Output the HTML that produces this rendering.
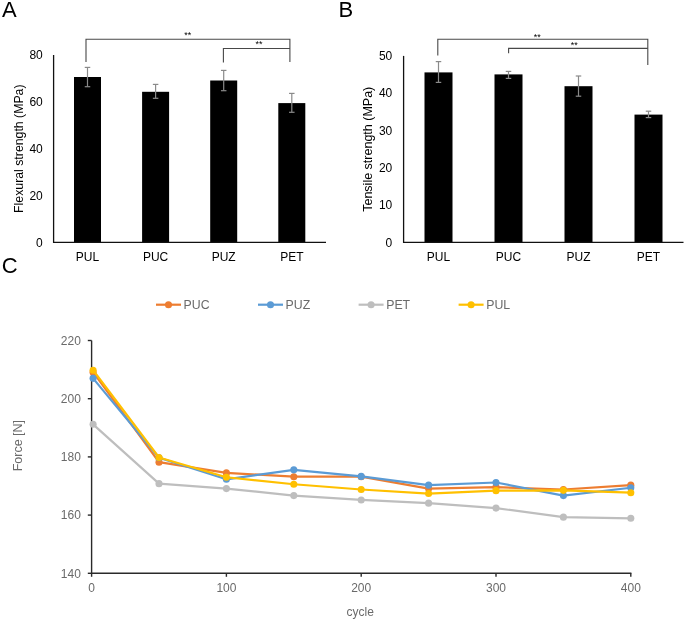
<!DOCTYPE html>
<html><head><meta charset="utf-8"><style>
html,body{margin:0;padding:0;background:#fff;}
svg{display:block;font-family:"Liberation Sans", sans-serif;will-change:transform;filter:blur(0.35px);}
</style></head><body>
<svg width="685" height="621" viewBox="0 0 685 621">
<rect width="685" height="621" fill="#fff"/>
<text transform="translate(2,17.2) scale(1,1.03)" font-size="22" fill="#000">A</text>
<text transform="translate(338.4,17.2) scale(1,1.03)" font-size="22" fill="#000">B</text>
<text transform="translate(1.8,273.2) scale(1,1.03)" font-size="22" fill="#000">C</text>
<rect x="74.0" y="77" width="27" height="165.5" fill="#000"/>
<rect x="142.1" y="91.8" width="27" height="150.7" fill="#000"/>
<rect x="210.2" y="80.5" width="27" height="162.0" fill="#000"/>
<rect x="278.3" y="103.1" width="27" height="139.4" fill="#000"/>
<line x1="87.5" y1="67.4" x2="87.5" y2="86.7" stroke="#8a8a8a" stroke-width="1.2"/>
<line x1="84.75" y1="67.4" x2="90.25" y2="67.4" stroke="#8a8a8a" stroke-width="1.2"/>
<line x1="84.75" y1="86.7" x2="90.25" y2="86.7" stroke="#8a8a8a" stroke-width="1.2"/>
<line x1="155.6" y1="84.4" x2="155.6" y2="98.3" stroke="#8a8a8a" stroke-width="1.2"/>
<line x1="152.85" y1="84.4" x2="158.35" y2="84.4" stroke="#8a8a8a" stroke-width="1.2"/>
<line x1="152.85" y1="98.3" x2="158.35" y2="98.3" stroke="#8a8a8a" stroke-width="1.2"/>
<line x1="223.7" y1="70.4" x2="223.7" y2="90.7" stroke="#8a8a8a" stroke-width="1.2"/>
<line x1="220.95" y1="70.4" x2="226.45" y2="70.4" stroke="#8a8a8a" stroke-width="1.2"/>
<line x1="220.95" y1="90.7" x2="226.45" y2="90.7" stroke="#8a8a8a" stroke-width="1.2"/>
<line x1="291.8" y1="93.4" x2="291.8" y2="112.3" stroke="#8a8a8a" stroke-width="1.2"/>
<line x1="289.05" y1="93.4" x2="294.55" y2="93.4" stroke="#8a8a8a" stroke-width="1.2"/>
<line x1="289.05" y1="112.3" x2="294.55" y2="112.3" stroke="#8a8a8a" stroke-width="1.2"/>
<line x1="53.6" y1="55.0" x2="53.6" y2="242.9" stroke="#111" stroke-width="1.3"/>
<line x1="53.0" y1="242.3" x2="326" y2="242.3" stroke="#111" stroke-width="1.3"/>
<text x="42.8" y="246.55" font-size="12" fill="#000" text-anchor="end" >0</text>
<text x="42.8" y="199.73" font-size="12" fill="#000" text-anchor="end" >20</text>
<text x="42.8" y="152.9" font-size="12" fill="#000" text-anchor="end" >40</text>
<text x="42.8" y="106.08" font-size="12" fill="#000" text-anchor="end" >60</text>
<text x="42.8" y="59.25" font-size="12" fill="#000" text-anchor="end" >80</text>
<text transform="translate(22.6,148.7) rotate(-90)" x="0" y="0" font-size="12.3" fill="#000" text-anchor="middle">Flexural strength (MPa)</text>
<text x="87.5" y="261" font-size="12" fill="#000" text-anchor="middle" >PUL</text>
<text x="155.6" y="261" font-size="12" fill="#000" text-anchor="middle" >PUC</text>
<text x="223.7" y="261" font-size="12" fill="#000" text-anchor="middle" >PUZ</text>
<text x="291.8" y="261" font-size="12" fill="#000" text-anchor="middle" >PET</text>
<path d="M86,62 V39.2 H289.9 V62" fill="none" stroke="#484848" stroke-width="1.1"/>
<path d="M223.4,62.5 V48.5 H289.9" fill="none" stroke="#484848" stroke-width="1.1"/>
<text x="187.8" y="38.2" font-size="9" fill="#000" text-anchor="middle" >**</text>
<text x="259.1" y="47.3" font-size="9" fill="#000" text-anchor="middle" >**</text>
<rect x="424.5" y="72.4" width="28" height="170.1" fill="#000"/>
<rect x="494.5" y="74.4" width="28" height="168.1" fill="#000"/>
<rect x="564.5" y="86.2" width="28" height="156.3" fill="#000"/>
<rect x="634.5" y="114.6" width="28" height="127.9" fill="#000"/>
<line x1="438.5" y1="61.6" x2="438.5" y2="82.4" stroke="#8a8a8a" stroke-width="1.2"/>
<line x1="435.75" y1="61.6" x2="441.25" y2="61.6" stroke="#8a8a8a" stroke-width="1.2"/>
<line x1="435.75" y1="82.4" x2="441.25" y2="82.4" stroke="#8a8a8a" stroke-width="1.2"/>
<line x1="508.5" y1="71.4" x2="508.5" y2="78.4" stroke="#8a8a8a" stroke-width="1.2"/>
<line x1="505.75" y1="71.4" x2="511.25" y2="71.4" stroke="#8a8a8a" stroke-width="1.2"/>
<line x1="505.75" y1="78.4" x2="511.25" y2="78.4" stroke="#8a8a8a" stroke-width="1.2"/>
<line x1="578.5" y1="76" x2="578.5" y2="96.2" stroke="#8a8a8a" stroke-width="1.2"/>
<line x1="575.75" y1="76" x2="581.25" y2="76" stroke="#8a8a8a" stroke-width="1.2"/>
<line x1="575.75" y1="96.2" x2="581.25" y2="96.2" stroke="#8a8a8a" stroke-width="1.2"/>
<line x1="648.5" y1="111.2" x2="648.5" y2="117.6" stroke="#8a8a8a" stroke-width="1.2"/>
<line x1="645.75" y1="111.2" x2="651.25" y2="111.2" stroke="#8a8a8a" stroke-width="1.2"/>
<line x1="645.75" y1="117.6" x2="651.25" y2="117.6" stroke="#8a8a8a" stroke-width="1.2"/>
<line x1="403.6" y1="55.9" x2="403.6" y2="242.9" stroke="#111" stroke-width="1.3"/>
<line x1="403.0" y1="242.3" x2="683.5" y2="242.3" stroke="#111" stroke-width="1.3"/>
<text x="392.3" y="246.55" font-size="12" fill="#000" text-anchor="end" >0</text>
<text x="392.3" y="209.27" font-size="12" fill="#000" text-anchor="end" >10</text>
<text x="392.3" y="171.99" font-size="12" fill="#000" text-anchor="end" >20</text>
<text x="392.3" y="134.71" font-size="12" fill="#000" text-anchor="end" >30</text>
<text x="392.3" y="97.43" font-size="12" fill="#000" text-anchor="end" >40</text>
<text x="392.3" y="60.15" font-size="12" fill="#000" text-anchor="end" >50</text>
<text transform="translate(371.8,149.25) rotate(-90)" x="0" y="0" font-size="12.5" fill="#000" text-anchor="middle">Tensile strength (MPa)</text>
<text x="438.5" y="261" font-size="12" fill="#000" text-anchor="middle" >PUL</text>
<text x="508.5" y="261" font-size="12" fill="#000" text-anchor="middle" >PUC</text>
<text x="578.5" y="261" font-size="12" fill="#000" text-anchor="middle" >PUZ</text>
<text x="648.5" y="261" font-size="12" fill="#000" text-anchor="middle" >PET</text>
<path d="M437.8,55.5 V39.2 H647.8 V65" fill="none" stroke="#484848" stroke-width="1.1"/>
<path d="M508.6,53.2 V48.4 H647.8" fill="none" stroke="#484848" stroke-width="1.1"/>
<text x="537.2" y="39.7" font-size="9" fill="#000" text-anchor="middle" >**</text>
<text x="574.2" y="47.7" font-size="9" fill="#000" text-anchor="middle" >**</text>
<line x1="87.8" y1="573.3" x2="91.6" y2="573.3" stroke="#2a2a2a" stroke-width="1.4"/>
<text x="80.9" y="577.55" font-size="12" fill="#6a6a6a" text-anchor="end" >140</text>
<line x1="87.8" y1="515.1" x2="91.6" y2="515.1" stroke="#2a2a2a" stroke-width="1.4"/>
<text x="80.9" y="519.35" font-size="12" fill="#6a6a6a" text-anchor="end" >160</text>
<line x1="87.8" y1="456.9" x2="91.6" y2="456.9" stroke="#2a2a2a" stroke-width="1.4"/>
<text x="80.9" y="461.15" font-size="12" fill="#6a6a6a" text-anchor="end" >180</text>
<line x1="87.8" y1="398.7" x2="91.6" y2="398.7" stroke="#2a2a2a" stroke-width="1.4"/>
<text x="80.9" y="402.95" font-size="12" fill="#6a6a6a" text-anchor="end" >200</text>
<line x1="87.8" y1="340.5" x2="91.6" y2="340.5" stroke="#2a2a2a" stroke-width="1.4"/>
<text x="80.9" y="344.75" font-size="12" fill="#6a6a6a" text-anchor="end" >220</text>
<line x1="91.6" y1="573.3" x2="91.6" y2="576.8" stroke="#2a2a2a" stroke-width="1.4"/>
<text x="91.6" y="591.6" font-size="12" fill="#6a6a6a" text-anchor="middle" >0</text>
<line x1="226.4" y1="573.3" x2="226.4" y2="576.8" stroke="#2a2a2a" stroke-width="1.4"/>
<text x="226.4" y="591.6" font-size="12" fill="#6a6a6a" text-anchor="middle" >100</text>
<line x1="361.2" y1="573.3" x2="361.2" y2="576.8" stroke="#2a2a2a" stroke-width="1.4"/>
<text x="361.2" y="591.6" font-size="12" fill="#6a6a6a" text-anchor="middle" >200</text>
<line x1="496.0" y1="573.3" x2="496.0" y2="576.8" stroke="#2a2a2a" stroke-width="1.4"/>
<text x="496.0" y="591.6" font-size="12" fill="#6a6a6a" text-anchor="middle" >300</text>
<line x1="630.8" y1="573.3" x2="630.8" y2="576.8" stroke="#2a2a2a" stroke-width="1.4"/>
<text x="630.8" y="591.6" font-size="12" fill="#6a6a6a" text-anchor="middle" >400</text>
<line x1="91.6" y1="340.5" x2="91.6" y2="573.9" stroke="#2a2a2a" stroke-width="1.4"/>
<line x1="91.0" y1="573.3" x2="631.4" y2="573.3" stroke="#2a2a2a" stroke-width="1.4"/>
<text transform="translate(22.3,445.6) rotate(-90)" x="0" y="0" font-size="12.5" fill="#6a6a6a" text-anchor="middle">Force [N]</text>
<text x="360.2" y="616.3" font-size="12" fill="#6a6a6a" text-anchor="middle" >cycle</text>
<polyline points="93.1,372.22 159.0,462.14 226.4,472.9 293.8,476.69 361.2,476.69 428.6,488.62 496.0,487.16 563.4,489.49 630.8,485.13" fill="none" stroke="#ED7D31" stroke-width="2.2" stroke-linejoin="round" stroke-linecap="round"/>
<circle cx="93.1" cy="372.22" r="3.55" fill="#ED7D31"/>
<circle cx="159.0" cy="462.14" r="3.55" fill="#ED7D31"/>
<circle cx="226.4" cy="472.9" r="3.55" fill="#ED7D31"/>
<circle cx="293.8" cy="476.69" r="3.55" fill="#ED7D31"/>
<circle cx="361.2" cy="476.69" r="3.55" fill="#ED7D31"/>
<circle cx="428.6" cy="488.62" r="3.55" fill="#ED7D31"/>
<circle cx="496.0" cy="487.16" r="3.55" fill="#ED7D31"/>
<circle cx="563.4" cy="489.49" r="3.55" fill="#ED7D31"/>
<circle cx="630.8" cy="485.13" r="3.55" fill="#ED7D31"/>
<polyline points="93.1,378.33 159.0,457.77 226.4,479.31 293.8,469.85 361.2,476.4 428.6,485.13 496.0,482.51 563.4,495.6 630.8,487.75" fill="none" stroke="#5B9BD5" stroke-width="2.2" stroke-linejoin="round" stroke-linecap="round"/>
<circle cx="93.1" cy="378.33" r="3.55" fill="#5B9BD5"/>
<circle cx="159.0" cy="457.77" r="3.55" fill="#5B9BD5"/>
<circle cx="226.4" cy="479.31" r="3.55" fill="#5B9BD5"/>
<circle cx="293.8" cy="469.85" r="3.55" fill="#5B9BD5"/>
<circle cx="361.2" cy="476.4" r="3.55" fill="#5B9BD5"/>
<circle cx="428.6" cy="485.13" r="3.55" fill="#5B9BD5"/>
<circle cx="496.0" cy="482.51" r="3.55" fill="#5B9BD5"/>
<circle cx="563.4" cy="495.6" r="3.55" fill="#5B9BD5"/>
<circle cx="630.8" cy="487.75" r="3.55" fill="#5B9BD5"/>
<polyline points="93.1,424.31 159.0,483.67 226.4,488.62 293.8,495.6 361.2,499.97 428.6,503.17 496.0,508.12 563.4,517.14 630.8,518.3" fill="none" stroke="#BEBEBE" stroke-width="2.2" stroke-linejoin="round" stroke-linecap="round"/>
<circle cx="93.1" cy="424.31" r="3.55" fill="#BEBEBE"/>
<circle cx="159.0" cy="483.67" r="3.55" fill="#BEBEBE"/>
<circle cx="226.4" cy="488.62" r="3.55" fill="#BEBEBE"/>
<circle cx="293.8" cy="495.6" r="3.55" fill="#BEBEBE"/>
<circle cx="361.2" cy="499.97" r="3.55" fill="#BEBEBE"/>
<circle cx="428.6" cy="503.17" r="3.55" fill="#BEBEBE"/>
<circle cx="496.0" cy="508.12" r="3.55" fill="#BEBEBE"/>
<circle cx="563.4" cy="517.14" r="3.55" fill="#BEBEBE"/>
<circle cx="630.8" cy="518.3" r="3.55" fill="#BEBEBE"/>
<polyline points="93.1,370.18 159.0,457.48 226.4,477.27 293.8,484.25 361.2,489.49 428.6,493.57 496.0,490.66 563.4,490.36 630.8,492.69" fill="none" stroke="#FFC000" stroke-width="2.2" stroke-linejoin="round" stroke-linecap="round"/>
<circle cx="93.1" cy="370.18" r="3.55" fill="#FFC000"/>
<circle cx="159.0" cy="457.48" r="3.55" fill="#FFC000"/>
<circle cx="226.4" cy="477.27" r="3.55" fill="#FFC000"/>
<circle cx="293.8" cy="484.25" r="3.55" fill="#FFC000"/>
<circle cx="361.2" cy="489.49" r="3.55" fill="#FFC000"/>
<circle cx="428.6" cy="493.57" r="3.55" fill="#FFC000"/>
<circle cx="496.0" cy="490.66" r="3.55" fill="#FFC000"/>
<circle cx="563.4" cy="490.36" r="3.55" fill="#FFC000"/>
<circle cx="630.8" cy="492.69" r="3.55" fill="#FFC000"/>
<line x1="156" y1="304.7" x2="181" y2="304.7" stroke="#ED7D31" stroke-width="2.2"/>
<circle cx="168.5" cy="304.7" r="3.55" fill="#ED7D31"/>
<text x="183.6" y="308.9" font-size="12.3" fill="#6a6a6a" text-anchor="start" >PUC</text>
<line x1="258" y1="304.7" x2="283" y2="304.7" stroke="#5B9BD5" stroke-width="2.2"/>
<circle cx="270.5" cy="304.7" r="3.55" fill="#5B9BD5"/>
<text x="285.6" y="308.9" font-size="12.3" fill="#6a6a6a" text-anchor="start" >PUZ</text>
<line x1="358.6" y1="304.7" x2="383.6" y2="304.7" stroke="#BEBEBE" stroke-width="2.2"/>
<circle cx="371.1" cy="304.7" r="3.55" fill="#BEBEBE"/>
<text x="386.20000000000005" y="308.9" font-size="12.3" fill="#6a6a6a" text-anchor="start" >PET</text>
<line x1="458.6" y1="304.7" x2="483.6" y2="304.7" stroke="#FFC000" stroke-width="2.2"/>
<circle cx="471.1" cy="304.7" r="3.55" fill="#FFC000"/>
<text x="486.20000000000005" y="308.9" font-size="12.3" fill="#6a6a6a" text-anchor="start" >PUL</text>
</svg>
</body></html>
